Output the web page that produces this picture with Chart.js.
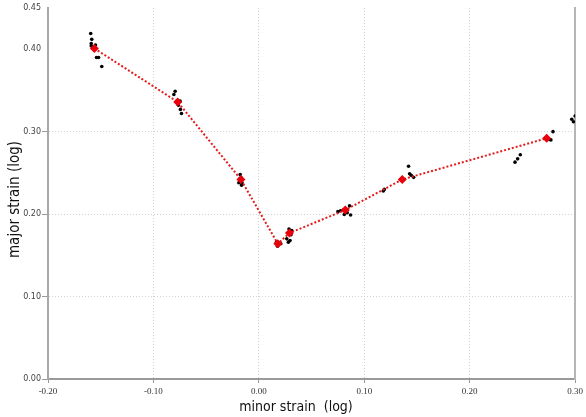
<!DOCTYPE html>
<html>
<head>
<meta charset="utf-8">
<script src="https://cdn.jsdelivr.net/npm/chart.js@4/dist/chart.umd.min.js"></script>
<style>
  html, body { margin: 0; padding: 0; background: #fff; }
  #wrap { width: 586px; height: 417px; }
</style>
</head>
<body>
<div id="wrap"><canvas id="chart"></canvas></div>
<script>
// mean strain path (red diamonds)
const meanMinor = [-0.156, -0.077, -0.017, 0.018, 0.029, 0.082, 0.136, 0.273];
const meanMajor = [0.401, 0.336, 0.242, 0.164, 0.177, 0.205, 0.242, 0.292];

// measured points (black dots)
const pointMinor = [
  -0.1595, -0.1585, -0.159, -0.155, -0.159, -0.157, -0.154, -0.152, -0.149,
  -0.0794, -0.0806, -0.0747, -0.0763, -0.0744, -0.0734,
  -0.0177, -0.0167, -0.019, -0.016, -0.0164,
  0.0167, 0.0186, 0.0177, 0.0208,
  0.0286, 0.0312, 0.0305, 0.0265, 0.028, 0.0296,
  0.075, 0.0775, 0.080, 0.0838, 0.086, 0.087, 0.081,
  0.119, 0.118,
  0.142, 0.143, 0.1446, 0.1468,
  0.243, 0.2455, 0.248,
  0.279, 0.2755, 0.277,
  0.2968, 0.2984, 0.3
];
const pointMajor = [
  0.419, 0.412, 0.407, 0.405, 0.404, 0.401, 0.390, 0.390, 0.379,
  0.349, 0.345, 0.337, 0.332, 0.327, 0.322,
  0.248, 0.244, 0.238, 0.238, 0.235,
  0.166, 0.163, 0.161, 0.164,
  0.182, 0.180, 0.175, 0.170, 0.166, 0.168,
  0.203, 0.204, 0.205, 0.2016, 0.210, 0.199, 0.1995,
  0.230, 0.228,
  0.258, 0.249, 0.247, 0.2446,
  0.263, 0.267, 0.272,
  0.300, 0.2906, 0.290,
  0.315, 0.312, 0.319
];

const xTicks = [-0.2, -0.1, 0, 0.1, 0.2, 0.3];
const yTicks = [0, 0.1, 0.2, 0.3, 0.4, 0.45];
const xTitle = "minor strain  (log)";
const yTitle = "major strain (log)";

const meanData = meanMinor.map((x, i) => ({ x: x, y: meanMajor[i] }));
const pointData = pointMinor.map((x, i) => ({ x: x, y: pointMajor[i] }));

// axis titles drawn by hand so they sit where the original has them
const axisTitles = {
  id: "axisTitles",
  afterDraw(chart) {
    const ctx = chart.ctx;
    const area = chart.chartArea;
    ctx.save();
    ctx.fillStyle = "#111";
    ctx.textAlign = "center";
    ctx.textBaseline = "middle";
    ctx.font = "14px 'DejaVu Sans Condensed'";
    ctx.fillText(xTitle, chart.width / 2 + 3, 407);
    ctx.translate(15, (area.top + area.bottom) / 2 + 6);
    ctx.rotate(-Math.PI / 2);
    ctx.font = "15px 'DejaVu Sans Condensed'";
    ctx.fillText(yTitle, 0, 0);
    ctx.restore();
  }
};

new Chart(document.getElementById("chart"), {
  type: "scatter",
  data: {
    datasets: [
      {
        label: "mean",
        data: meanData,
        showLine: true,
        borderColor: "#e41a1c",
        borderWidth: 2,
        borderDash: [2, 2],
        pointStyle: "rectRot",
        pointRadius: 4.5,
        pointBackgroundColor: "#e8000b",
        pointBorderColor: "#e8000b",
        pointBorderWidth: 0,
        order: 0
      },
      {
        label: "points",
        data: pointData,
        pointRadius: 1.8,
        pointBackgroundColor: "#000",
        pointBorderColor: "#000",
        pointBorderWidth: 0,
        order: 1
      }
    ]
  },
  options: {
    responsive: true,
    maintainAspectRatio: false,
    animation: false,
    layout: { padding: { top: 8, right: 10, left: 0, bottom: 0 } },
    plugins: { legend: { display: false }, tooltip: { enabled: false } },
    scales: {
      x: {
        type: "linear",
        min: -0.2,
        max: 0.3,
        afterBuildTicks: (s) => { s.ticks = xTicks.map(v => ({ value: v })); },
        afterFit: (s) => { s.height = 38; },
        grid: {
          color: (c) => (c.tick && (c.tick.value === -0.2 || Math.abs(c.tick.value - 0.3) < 1e-9)) ? "rgba(0,0,0,0)" : "#d2d2d2",
          tickColor: "#999",
          tickLength: 4,
          lineWidth: 1
        },
        border: { color: "#9a9a9a", width: 2, dash: [1, 2] },
        ticks: {
          color: "#333",
          font: { family: "Liberation Serif", size: 9 },
          padding: 3,
          maxRotation: 0,
          callback: (v) => v.toFixed(2)
        },
        title: { display: false }
      },
      y: {
        type: "linear",
        min: 0,
        max: 0.45,
        afterBuildTicks: (s) => { s.ticks = yTicks.map(v => ({ value: v })); },
        afterFit: (s) => { s.width = 48; },
        grid: {
          color: (c) => (c.tick && c.tick.value > 0 && c.tick.value < 0.35) ? "#d2d2d2" : "rgba(0,0,0,0)",
          tickColor: (c) => (c.tick && c.tick.value < 0.35) ? "#999" : "rgba(0,0,0,0)",
          tickLength: 6,
          lineWidth: 1
        },
        border: { color: "#a8a8a8", width: 2, dash: [1, 2] },
        ticks: {
          color: "#444",
          font: { family: "DejaVu Sans", size: 8 },
          padding: 1,
          callback: (v) => v.toFixed(2)
        },
        title: { display: false }
      },
      yRight: {
        type: "linear",
        position: "right",
        min: 0,
        max: 0.45,
        afterFit: (s) => { s.width = 0; },
        grid: { display: false },
        ticks: { display: false },
        border: { color: "#b5b5b5", width: 2 }
      }
    }
  },
  plugins: [axisTitles]
});
</script>
</body>
</html>
